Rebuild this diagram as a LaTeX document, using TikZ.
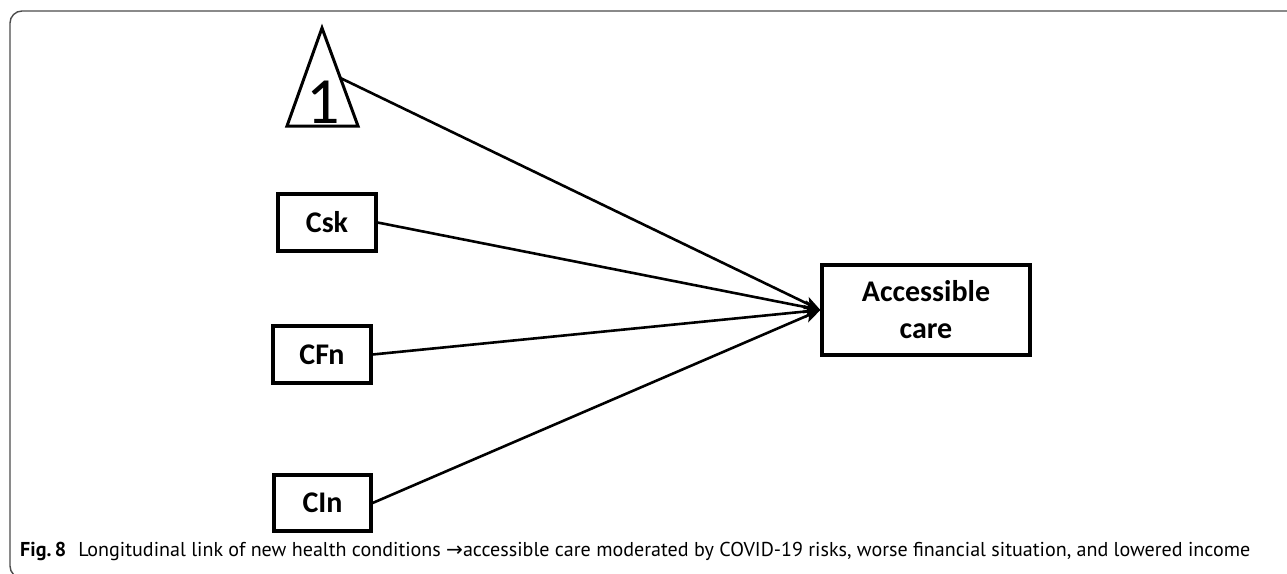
\documentclass[tikz,border=0pt]{standalone}
\usepackage{fontspec}
\setmainfont{Carlito}
\newfontfamily\capfont{PT Sans}
\newfontfamily\symfont{DejaVu Sans}
\usetikzlibrary{arrows.meta,calc}
\tikzset{
  boxnode/.style={draw, line width=3.2pt, minimum width=98pt, minimum height=57pt, inner sep=0pt,
    font=\fontsize{30}{37}\selectfont\bfseries, align=center},
  link/.style={line width=2.6pt, -{Stealth[length=16pt,width=13pt,inset=4pt]}},
  frame/.style={draw=black!70, line width=1.4pt}
}
\begin{document}
\begin{tikzpicture}[x=1pt,y=-1pt]
\useasboundingbox (0,0) rectangle (1287,573);
% frame
\begin{scope}
\clip (0,0) rectangle (1287,573);
\draw[frame, rounded corners=12pt] (1300,11) -- (10,11) -- (10,578) -- (200,578);
\end{scope}
% triangle
\coordinate (ta) at (322,28);
\coordinate (tl) at (287,126);
\coordinate (tr) at (358,126);
\draw[line width=3pt, line join=miter] (ta) -- (tr) -- (tl) -- cycle;
\node[anchor=base, inner sep=0pt, font=\fontsize{66}{66}\selectfont] (one) at (323,123) {1};
\coordinate (tout) at ($(ta)!0.51!(tr)$);
% boxes
\node[boxnode] (csk) at (327,222.5) {Csk};
\node[boxnode] (cfn) at (322,354.5) {CFn};
\node[boxnode, minimum height=56pt, minimum width=97pt] (cin) at (322.5,503) {CIn};
\node[boxnode, minimum width=208pt, minimum height=90pt] (ac) at (926,310) {Accessible\\care};
% links
\draw[link] (tout) -- (ac.west);
\draw[link] (csk.east) -- (ac.west);
\draw[link] (cfn.east) -- (ac.west);
\draw[link] (cin.east) -- (ac.west);
% caption
\node[anchor=base west, inner sep=0pt] (cap) at (20,556) {\resizebox{1230pt}{!}{\fontsize{17}{20}\selectfont\capfont\textbf{Fig.\,8}\hspace{0.6em}Longitudinal link of new health conditions {\symfont →}accessible care moderated by COVID-19 risks, worse financial situation, and lowered income}};
\end{tikzpicture}
\end{document}
